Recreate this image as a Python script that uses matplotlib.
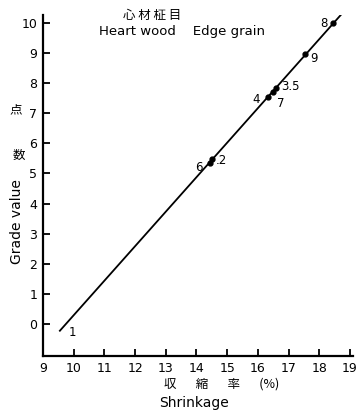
import matplotlib.pyplot as plt
import numpy as np

plt.rcParams['font.family'] = ['DejaVu Sans', 'Noto Sans CJK JP']

# sample number, shrinkage (%), grade value
labels = ["8", "9", "3.5", "7", "4", "6", ".2"]
shrinkage = [18.45, 17.53, 16.59, 16.50, 16.33, 14.44, 14.50]
grade = [10.0, 8.97, 7.84, 7.70, 7.55, 5.35, 5.48]

# drawn regression line (end points)
line_x = [9.55, 18.84]
line_y = [-0.23, 10.43]

xticks = list(range(9, 20))
yticks = list(range(0, 11))

W, H = 357, 417
fig = plt.figure(figsize=(W / 100, H / 100), dpi=100)


def px(x, y):
    return x / W, 1 - y / H


ax = fig.add_axes([43 / W, 61 / H, 310 / W, 341 / H])
ax.set_xlim(9, 19.1)
ax.set_ylim(-1.07, 10.27)

ax.plot(line_x, line_y, color="black", lw=1.3)
ax.plot(shrinkage, grade, "o", color="black", ms=3.5)

# point labels (offsets in points)
offsets = {"8": (-9, 0), "9": (4, -3), "3.5": (4, 1), "7": (3, -8),
           "4": (-11, -2), "6": (-11, -3), ".2": (3, -1)}
for lab, x, y in zip(labels, shrinkage, grade):
    dx, dy = offsets[lab]
    ax.annotate(lab, (x, y), xytext=(dx, dy), textcoords="offset points",
                fontsize=8.5, va="center", ha="left")
ax.text(9.85, -0.3, "1", fontsize=8.5, va="center")

for s in ["top", "right"]:
    ax.spines[s].set_visible(False)
for s in ["left", "bottom"]:
    ax.spines[s].set_linewidth(1.6)

ax.set_xticks(xticks)
ax.set_yticks(yticks)
ax.tick_params(direction="in", length=5, width=1.3, labelsize=9, pad=4)
ax.set_xticklabels([str(t) for t in xticks])

cjk = ["Noto Sans CJK JP", "DejaVu Sans"]
fig.text(*px(152, 15), "心 材 柾 目", fontsize=9, ha="center", va="center", family=cjk)
fig.text(*px(182, 32), "Heart wood    Edge grain", fontsize=9.5, ha="center", va="center")
fig.text(*px(16, 110), "点", fontsize=9, ha="center", va="center", family=cjk)
fig.text(*px(19, 155), "数", fontsize=9, ha="center", va="center", family=cjk)
fig.text(*px(17, 222), "Grade value", fontsize=10, ha="center", va="center", rotation=90)
fig.text(*px(222, 384), "収       縮       率       (%)", fontsize=9, ha="center",
         va="center", family=cjk)
fig.text(*px(194, 403), "Shrinkage", fontsize=10, ha="center", va="center")

fig.savefig("out.png", dpi=100)
